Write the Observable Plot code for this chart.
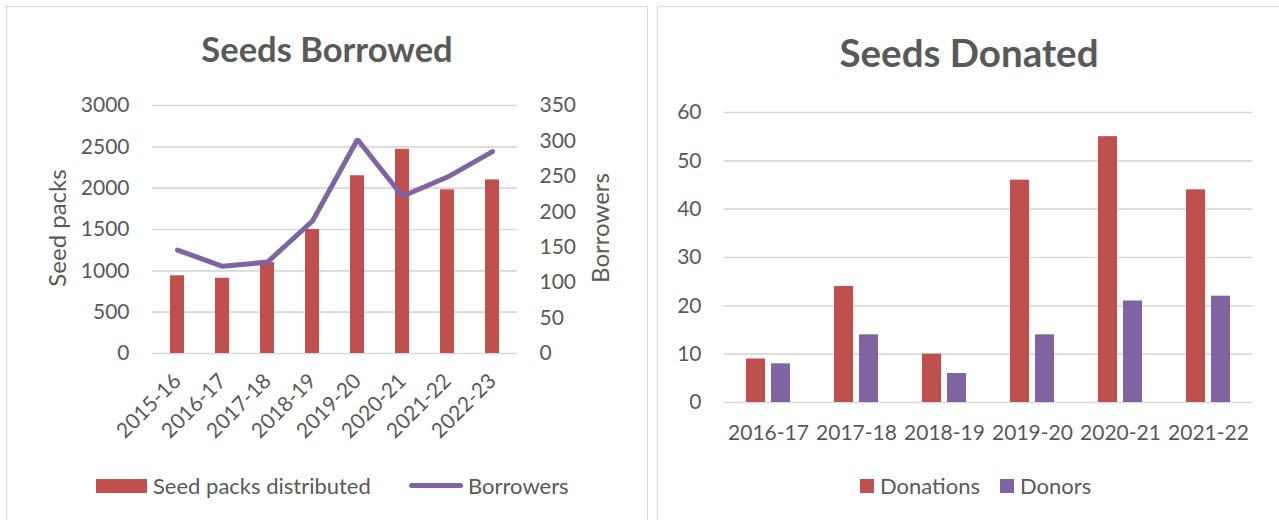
<!DOCTYPE html>
<html><head><meta charset="utf-8">
<script src="https://cdn.jsdelivr.net/npm/d3@7"></script>
<script src="https://cdn.jsdelivr.net/npm/@observablehq/plot@0.6"></script>
<style>
html,body{margin:0;padding:0;background:#fff;width:1279px;height:520px;overflow:hidden;font-family:Lato, sans-serif;color:#595959}
.panel{position:absolute;border:1px solid #d9d9d9;box-sizing:border-box}
.chart{position:absolute}
.title{position:absolute;font-weight:bold;white-space:nowrap;transform:translate(-50%,-50%);line-height:1}
.lbl{position:absolute;white-space:nowrap;line-height:1;transform:translate(0,-50%);font-size:22px}
.vt{position:absolute;white-space:nowrap;line-height:1;transform:translate(-50%,-50%) rotate(-90deg);font-size:24px}
.sw{position:absolute}
</style></head><body>
<div class="panel" style="left:6px;top:6px;width:642px;height:600px"></div>
<div class="panel" style="left:657px;top:6px;width:700px;height:600px"></div>

<div class="title" style="left:327px;top:49px;font-size:34.5px">Seeds Borrowed</div>
<div class="title" style="left:969px;top:52px;font-size:38.5px">Seeds Donated</div>

<div class="vt" style="left:57px;top:228px">Seed packs</div>
<div class="vt" style="left:600px;top:228px">Borrowers</div>

<div id="left1" class="chart" style="left:0;top:80px"></div>
<div id="left2" class="chart" style="left:0;top:80px"></div>
<div id="right1" class="chart" style="left:650px;top:80px"></div>

<div class="sw" style="left:96px;top:479px;width:51px;height:14px;background:#C0504D"></div>
<div class="lbl" style="left:153px;top:486px">Seed packs distributed</div>
<div class="sw" style="left:409px;top:483px;width:54px;height:5px;border-radius:3px;background:#8064A2"></div>
<div class="lbl" style="left:468px;top:486px">Borrowers</div>

<div class="sw" style="left:860px;top:479px;width:14px;height:14px;background:#C0504D"></div>
<div class="lbl" style="left:880px;top:486px">Donations</div>
<div class="sw" style="left:1000px;top:479px;width:14px;height:14px;background:#8064A2"></div>
<div class="lbl" style="left:1020px;top:486px">Donors</div>

<script>
// ---- data ----
const years = ["2015-16","2016-17","2017-18","2018-19","2019-20","2020-21","2021-22","2022-23"];
const seedPacks = [940, 910, 1100, 1500, 2150, 2470, 1980, 2100];
const borrowers = [146, 123, 129, 187, 302, 222, 249, 285];
const packTicks = [0, 500, 1000, 1500, 2000, 2500, 3000];
const borrowerTicks = [0, 50, 100, 150, 200, 250, 300, 350];

const donateYears = ["2016-17","2017-18","2018-19","2019-20","2020-21","2021-22"];
const donations = [9, 24, 10, 46, 55, 44];
const donors = [8, 14, 6, 14, 21, 22];
const donateTicks = [0, 10, 20, 30, 40, 50, 60];
const seriesNames = ["Donations", "Donors"];
const seriesColors = ["#C0504D", "#8064A2"];

const rowsL = years.map((y, i) => ({year: y, packs: seedPacks[i], borrowers: borrowers[i]}));
const rowsR = donateYears.flatMap((y, i) => [
  {year: y, series: "Donations", value: donations[i]},
  {year: y, series: "Donors", value: donors[i]}
]);

const fmt = d => String(d);
const baseStyle = {fontFamily: "Lato, sans-serif", fontSize: "21px", color: "#595959", background: "transparent", overflow: "visible"};
const gridOpts = {stroke: "#d9d9d9", strokeOpacity: 1, strokeWidth: 1.6};

const L = {width: 650, height: 390, marginLeft: 152, marginRight: 133, marginTop: 25, marginBottom: 117};

document.getElementById("left1").append(Plot.plot({
  ...L,
  style: baseStyle,
  x: {domain: years, paddingInner: 0.693, paddingOuter: 0.3465, label: null},
  y: {domain: [0, 3000], label: null},
  marks: [
    Plot.gridY(packTicks, gridOpts),
    Plot.barY(rowsL, {x: "year", y: "packs", fill: "#C0504D"}),
    Plot.axisY(packTicks, {tickSize: 0, tickPadding: 23, label: null, tickFormat: fmt}),
    Plot.axisX({tickSize: 0, tickRotate: -45, tickPadding: 24, label: null})
  ]
}));

document.getElementById("left2").append(Plot.plot({
  ...L,
  style: baseStyle,
  x: {domain: years, paddingInner: 0.693, paddingOuter: 0.3465, axis: null},
  y: {domain: [0, 350], label: null},
  marks: [
    Plot.line(rowsL, {x: "year", y: "borrowers", stroke: "#8064A2", strokeWidth: 5, strokeLinejoin: "miter", strokeLinecap: "round"}),
    Plot.axisY(borrowerTicks, {anchor: "right", tickSize: 0, tickPadding: 22, label: null, tickFormat: fmt})
  ]
}));

document.getElementById("right1").append(Plot.plot({
  width: 629, height: 380, marginLeft: 73, marginRight: 27, marginTop: 32, marginBottom: 58,
  style: baseStyle,
  fx: {domain: donateYears, padding: 0, label: null},
  x: {domain: seriesNames, paddingInner: 0.228, paddingOuter: 0.874, axis: null},
  y: {domain: [0, 60], label: null},
  color: {domain: seriesNames, range: seriesColors},
  marks: [
    Plot.gridY(donateTicks, gridOpts),
    Plot.barY(rowsR, {fx: "year", x: "series", y: "value", fill: "series"}),
    Plot.axisY(donateTicks, {tickSize: 0, tickPadding: 23, label: null, tickFormat: fmt}),
    Plot.axisFx({anchor: "bottom", tickSize: 0, tickPadding: 23, label: null})
  ]
}));
</script>
</body></html>
